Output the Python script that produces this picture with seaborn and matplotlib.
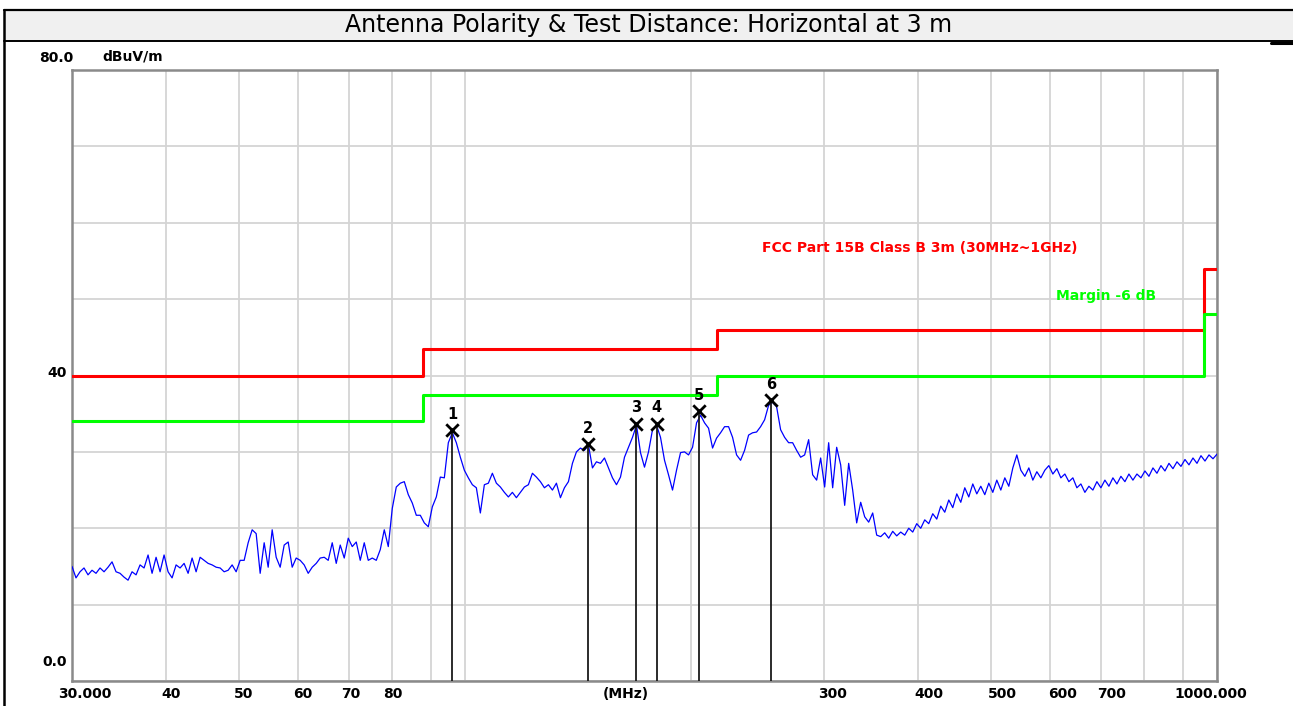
import numpy as np
import matplotlib
matplotlib.use("Agg")
import matplotlib.pyplot as plt
import matplotlib.transforms as mtransforms
from matplotlib.lines import Line2D
from matplotlib.patches import Rectangle
import seaborn as sns

# ---------------- data ----------------
title = "Antenna Polarity & Test Distance: Horizontal at 3 m"
y_unit = "dBuV/m"
x_unit = "(MHz)"
limit_name = "FCC Part 15B Class B 3m (30MHz~1GHz)"
margin_name = "Margin -6 dB"

limit_freq = [30, 88, 216, 960, 1000]
limit_db = [40.0, 43.5, 46.0, 54.0, 54.0]
margin_db = [34.0, 37.5, 40.0, 48.0, 48.0]

marker_ids = ["1", "2", "3", "4", "5", "6"]
marker_freq = [96.2, 145.8, 168.6, 179.9, 204.9, 255.2]
marker_db = [32.8, 31.0, 33.7, 33.7, 35.3, 36.8]

x_ticks = [30, 40, 50, 60, 70, 80, 300, 400, 500, 600, 700, 1000]
x_tick_labels = ["30.000", "40", "50", "60", "70", "80", "300", "400", "500",
                 "600", "700", "1000.000"]
x_grid_minor = [90, 100, 200, 800, 900]
y_ticks = [0, 40, 80]
y_tick_labels = ["0.0", "40", "80.0"]
y_grid_minor = [10, 20, 30, 50, 60, 70]

# measured trace (dBuV/m), log-spaced sweep from 30 MHz to 1 GHz
trace_db = [
    15.0, 13.5, 14.3, 14.8, 13.9, 14.5, 14.1, 14.8, 14.3, 14.9,
    15.6, 14.3, 14.1, 13.6, 13.2, 14.3, 13.9, 15.2, 14.8, 16.5,
    14.1, 16.2, 14.3, 16.5, 14.3, 13.5, 15.2, 14.8, 15.4, 14.1,
    16.1, 14.3, 16.2, 15.8, 15.4, 15.2, 14.9, 14.8, 14.3, 14.5,
    15.2, 14.3, 15.8,
    15.8, 18.1, 19.8, 19.3, 14.1, 18.1, 14.9, 19.8, 16.2, 14.9,
    17.8, 18.2, 14.9, 16.1, 15.8, 15.2, 14.1, 14.9, 15.4, 16.1,
    16.2, 15.8, 18.1, 15.4, 17.8, 16.1, 18.7, 17.6, 18.2, 15.8,
    18.1, 15.8, 16.1, 15.8, 17.2, 19.8, 17.6, 22.6,
    25.4, 25.9, 26.1, 24.4, 23.3, 21.7, 21.7, 20.7, 20.2, 22.8,
    24.1, 26.7, 26.6, 31.2, 32.5, 31.2, 29.3, 27.6, 26.6, 25.7,
    25.3, 22.0, 25.7, 25.9, 27.2, 25.9, 25.4, 24.7, 24.1, 24.7,
    24.0, 24.7, 25.4, 25.7, 27.2, 26.7, 26.1, 25.3, 25.7, 25.0,
    25.9, 24.0, 25.3, 26.1, 28.5, 30.0, 30.5, 30.2, 30.9, 27.9,
    28.7, 28.5, 29.2, 27.9, 26.6, 25.7, 26.7, 29.3, 30.6, 31.9,
    33.5, 29.9, 28.0, 30.0, 32.9, 33.5, 31.9, 28.9, 27.0, 25.0,
    27.6, 29.9, 30.0, 29.6, 30.6, 33.8, 34.8, 33.8, 33.1, 30.5,
    31.8, 32.5, 33.3, 33.3, 31.9, 29.6, 28.9, 30.2, 32.2, 32.5,
    32.6, 33.3, 34.2, 36.1, 36.5, 35.9, 32.9, 31.9, 31.2, 31.2,
    30.2, 29.3, 29.6, 31.6, 27.0, 26.3, 29.2, 25.4, 31.2, 25.3,
    30.6, 28.3, 23.0, 28.5, 25.0, 20.7, 23.4, 21.5, 20.8, 22.0,
    19.1, 18.9,
    19.4, 18.7, 19.6, 19.0, 19.5, 19.1, 20.0, 19.5, 20.6, 20.0,
    21.1, 20.6, 21.9, 21.2, 22.9, 22.1, 23.7, 22.7, 24.5, 23.4,
    25.3, 24.1, 25.8, 24.5, 25.5, 24.4, 25.9, 24.7, 26.3, 25.0,
    26.6, 25.5, 27.9, 29.6, 27.6, 26.8, 27.9, 26.3, 27.4, 26.6,
    27.6, 28.2, 27.1, 27.8, 26.6, 27.1, 26.1, 26.6, 25.3, 25.8,
    24.7, 25.5, 25.0, 26.1, 25.3, 26.3, 25.5, 26.6, 25.8, 26.8,
    26.1, 27.1, 26.3, 27.1, 26.6, 27.5, 26.8, 27.9, 27.2, 28.2,
    27.5, 28.5, 27.8, 28.7, 28.1, 29.0, 28.3, 29.2, 28.5, 29.5,
    28.8, 29.6, 29.1, 29.7,
]
trace_freq = np.geomspace(30, 1000, len(trace_db))

# ---------------- figure ----------------
sns.set_theme(style="white")
plt.rcParams["font.family"] = ["DejaVu Sans"]

W, H = 1293, 706
fig = plt.figure(figsize=(W / 100, H / 100), dpi=100)
fig.patch.set_facecolor("white")

# title band
fig.add_artist(Rectangle((4 / W, 1 - 41 / H), 1 - 4 / W, 31 / H,
                         transform=fig.transFigure, facecolor="#f0f0f0",
                         edgecolor="none", zorder=0))
fig.add_artist(Line2D([4 / W, 1], [1 - 10 / H] * 2, transform=fig.transFigure,
                      color="black", lw=1.6))
fig.add_artist(Line2D([4 / W, 1], [1 - 41 / H] * 2, transform=fig.transFigure,
                      color="black", lw=1.4))
fig.add_artist(Line2D([1271 / W, 1], [1 - 42.5 / H] * 2, transform=fig.transFigure,
                      color="black", lw=2.2))
fig.add_artist(Line2D([4 / W, 4 / W], [0, 1 - 10 / H], transform=fig.transFigure,
                      color="black", lw=1.8))
fig.text(0.5 + 2 / W, 1 - 32 / H, title, ha="center", va="baseline",
         fontsize=17, color="black")

# plot area
ax = fig.add_axes([72 / W, 1 - 681 / H, (1217 - 72) / W, (681 - 70) / H])
ax.set_facecolor("white")
ax.set_xscale("log")
ax.set_xlim(30, 1000)
ax.set_ylim(0, 80)

ax.set_xticks(x_ticks, x_tick_labels)
ax.set_xticks(x_grid_minor, minor=True)
ax.set_yticks(y_ticks, y_tick_labels)
ax.set_yticks(y_grid_minor, minor=True)
ax.xaxis.set_minor_formatter(matplotlib.ticker.NullFormatter())
ax.grid(True, which="both", color="#d4d4d4", lw=1.3)
ax.set_axisbelow(True)
ax.tick_params(which="both", length=0)
ax.tick_params(axis="x", pad=4.5, labelsize=10)
ax.tick_params(axis="y", pad=3.6, labelsize=10)
for lab in ax.get_xticklabels() + ax.get_yticklabels():
    lab.set_fontweight("bold")
    lab.set_color("black")

# per-label offsets (pixels) to mimic the original layout
x_off = [13, 5, 5, 4, 2, 1, 9, 11, 12, 12, 11, -6]
for lab, dx in zip(ax.get_xticklabels(), x_off):
    lab.set_transform(lab.get_transform() +
                      mtransforms.ScaledTranslation(dx / 100, 0, fig.dpi_scale_trans))
y_off = [(0, 20), (0, 4), (6, 13)]
for lab, (dx, dy) in zip(ax.get_yticklabels(), y_off):
    lab.set_transform(lab.get_transform() +
                      mtransforms.ScaledTranslation(dx / 100, dy / 100, fig.dpi_scale_trans))

for sp in ax.spines.values():
    sp.set_visible(True)
    sp.set_color("#8a8a8a")
    sp.set_linewidth(1.8)

# limit and margin lines
sns.lineplot(x=limit_freq, y=limit_db, ax=ax, color="#ff0000", lw=2.2,
             drawstyle="steps-post", estimator=None, zorder=3)
sns.lineplot(x=limit_freq, y=margin_db, ax=ax, color="#00ff00", lw=2.2,
             drawstyle="steps-post", estimator=None, zorder=3)

# trace
sns.lineplot(x=trace_freq, y=trace_db, ax=ax, color="#0000ff", lw=0.9,
             estimator=None, sort=False, zorder=4)

# markers
ax.vlines(marker_freq, 0, marker_db, color="#1a1a1a", lw=1.3, zorder=5)
sns.scatterplot(x=marker_freq, y=marker_db, ax=ax, marker="x", s=80,
                color="black", linewidth=2.0, zorder=6)
for mid, f, d in zip(marker_ids, marker_freq, marker_db):
    ax.annotate(mid, (f, d), xytext=(0, 6), textcoords="offset points",
                ha="center", va="bottom", fontsize=10.5, fontweight="bold",
                color="black", zorder=7)

# legend-like texts
ax.text((762 - 72) / 1145, (681 - 248) / 611, limit_name, transform=ax.transAxes,
        ha="left", va="center", fontsize=10, fontweight="bold", color="#ff0000")
ax.text((1056 - 72) / 1145, (681 - 296) / 611, margin_name, transform=ax.transAxes,
        ha="left", va="center", fontsize=10, fontweight="bold", color="#00ff00")

# units
fig.text(102 / W, 1 - 57 / H, y_unit, ha="left", va="center", fontsize=10,
         fontweight="bold", color="black")
ax.annotate(x_unit, ((626 - 72) / 1145, 0), xycoords="axes fraction",
            xytext=(0, -4.5), textcoords="offset points", ha="center", va="top",
            fontsize=10, fontweight="bold", color="black")

fig.savefig("out.png", dpi=100, facecolor="white")
